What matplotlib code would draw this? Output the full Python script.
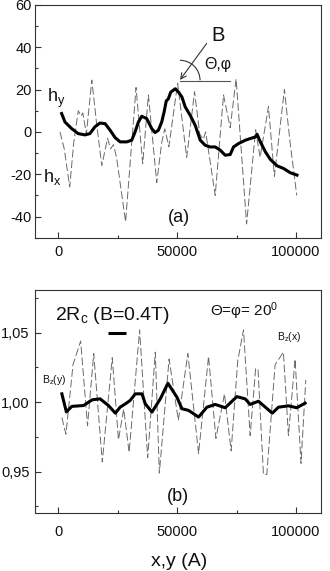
import matplotlib
matplotlib.use("Agg")
import matplotlib.pyplot as plt
from matplotlib.patches import Arc
from matplotlib.ticker import MultipleLocator, FuncFormatter

plt.rcParams["font.family"] = ["Liberation Sans", "DejaVu Sans"]
plt.rcParams["mathtext.fontset"] = "custom"
plt.rcParams["mathtext.rm"] = "Liberation Sans"
plt.rcParams["mathtext.it"] = "Liberation Sans:italic"
plt.rcParams["axes.unicode_minus"] = False

# panel (a): h_y (thick) and h_x (thin dashed)
hy_pos = [1400, 2800, 5600, 8400, 11200, 13300, 15400, 17500, 19700, 21800,
          23900, 26000, 28800, 30900, 32300, 33700, 35100, 37200, 39300, 40700,
          42100, 43500, 44500, 45400, 46300, 47300, 49200, 50600, 52000, 53400,
          55500, 57600, 59700, 61800, 63900, 66000, 68100, 70200, 72300, 73700,
          75800, 78700, 80800, 82900, 83600, 85000, 87100, 89200, 92000, 94800,
          97600, 100400]
hy_val = [8.7, 4.7, 1.6, -0.8, -1.4, -0.8, 2.4, 4.2, 3.9, 0.8,
          -2.7, -4.7, -4.7, -3.9, 0.0, 4.7, 7.4, 6.3, 1.6, -0.3,
          0.8, 4.7, 9.4, 14.6, 15.7, 18.8, 20.4, 18.8, 16.5, 11.8,
          7.8, 3.1, -3.9, -6.3, -7.1, -7.1, -8.6, -11.0, -10.7, -7.1,
          -5.5, -3.9, -3.1, -2.4, -1.1, -4.7, -9.4, -13.0, -16.0, -17.3,
          -19.3, -20.4]

hx_pos = [700, 2500, 4800, 6500, 8400, 9600, 10300, 11800, 14100, 16000,
          18300, 20700, 22000, 23200, 24500, 28300, 32700, 35500, 37900, 41400,
          43500, 44800, 46500, 50200, 54000, 57300, 59500, 61000, 62000, 66000,
          69500, 72300, 74800, 79200, 83000, 84900, 88400, 90900, 95100, 97500,
          100300]
hx_val = [0, -8, -26, -5, 10, 7.5, 9, -1, 24.5, 5,
          -16, -3, -8, -6, -12, -42.5, 21, -15, 17.5, -24,
          -5, 1.5, -7, 23, -12, 19, -1, -3.5, 0, -30,
          17.5, 2, 25, -43.5, 1, -12, 12, -21, 20, -5,
          -30]

# panel (b): B_z(y) (thick) and B_z(x) (thin dashed)
bzy_pos = [1500, 3400, 5700, 10600, 14200, 17600, 21100, 24000, 26000, 28200,
           30200, 32400, 35200, 36600, 39400, 42900, 46100, 49900, 52000, 54800,
           59000, 62500, 66000, 70200, 75100, 78600, 80700, 84200, 90000, 92600,
           96800, 100300, 103800]
bzy_val = [1.006, 0.993, 0.997, 0.9976, 1.0017, 1.0024, 0.9976, 0.9921, 0.9964, 0.9988,
           1.0012, 1.006, 1.006, 0.9988, 0.9929, 1.0024, 1.0136, 1.0036, 0.9953, 0.9941,
           0.9893, 0.9964, 0.9984, 0.996, 1.004, 1.0024, 0.9984, 1.0007, 0.9921, 0.9964,
           0.9974, 0.996, 0.9993]

bzx_pos = [1500, 3200, 6200, 9400, 12300, 14900, 18500, 22700, 25300, 27500,
           29800, 34200, 37600, 40800, 42500, 46600, 50500, 54500, 59000, 63200,
           66300, 69900, 72700, 75500, 77900, 80700, 83000, 84000, 86300, 87700,
           91200, 94700, 96800, 99600, 102100, 104100]
bzx_val = [0.989, 0.977, 1.027, 1.044, 0.983, 1.035, 0.957, 1.032, 0.973, 0.995,
           0.964, 1.052, 0.960, 1.036, 0.949, 1.031, 0.987, 1.035, 0.963, 1.033,
           0.974, 1.006, 0.965, 1.030, 1.052, 0.976, 1.024, 1.024, 0.948, 0.948,
           1.027, 1.036, 0.976, 1.031, 0.956, 1.016]

x_ticks = [0, 50000, 100000]
a_yticks = [-40, -20, 0, 20, 40, 60]
b_yticks = [0.95, 1.00, 1.05]

ink = "#111111"
thin = "#6a6a6a"

fig = plt.figure(figsize=(3.3, 5.71), dpi=100)
W, H = 330.0, 571.0
ax1 = fig.add_axes([35 / W, 1 - 237.7 / H, 286 / W, 232.7 / H])
ax2 = fig.add_axes([35 / W, 1 - 513 / H, 286 / W, 223 / H])

for ax in (ax1, ax2):
    for sp in ax.spines.values():
        sp.set_linewidth(0.8)
        sp.set_color("#333333")
    ax.set_xlim(-9800, 110500)
    ax.set_xticks(x_ticks)
    ax.xaxis.set_minor_locator(MultipleLocator(25000))
    ax.tick_params(which="both", direction="in", colors="#333333",
                   labelcolor=ink, labelsize=10.5, width=0.8)
    ax.tick_params(which="major", length=4.5)
    ax.tick_params(which="minor", length=2.5)

# (a)
ax1.plot(hx_pos, hx_val, color=thin, lw=0.7, linestyle=(0, (8, 3)))
ax1.plot(hy_pos, hy_val, color="black", lw=2.2, solid_joinstyle="round")
ax1.set_ylim(-50, 60)
ax1.set_yticks(a_yticks)
ax1.yaxis.set_minor_locator(MultipleLocator(10))
ax1.tick_params(axis="y", pad=2.4)
ax1.tick_params(axis="x", pad=5)

ax1.text(-4900, 14, r"h$_\mathregular{y}$", fontsize=13, color=ink, va="baseline")
ax1.text(-6300, -23.8, r"h$_\mathregular{x}$", fontsize=13, color=ink, va="baseline")
ax1.text(50800, -40.3, "(a)", fontsize=13, color=ink, ha="center", va="center")
ax1.text(67000, 45.5, "B", fontsize=14.5, color=ink, ha="center", va="center")
ax1.text(67200, 32, "Θ,φ", fontsize=11.5, color=ink, ha="center", va="center")
ax1.annotate("", xy=(51200, 24.6), xytext=(62400, 41.8),
             arrowprops=dict(arrowstyle="->", lw=0.8, color="#333333",
                             shrinkA=0, shrinkB=0))
ax1.plot([51200, 72200], [24.2, 24.2], color="#555555", lw=0.8)
ax1.add_patch(Arc((51200, 24.4), width=2 * 20 / 237.7e-5, height=2 * 20 / 42.3 * 20,
                  theta1=0, theta2=53, color="#333333", lw=0.8))

# (b)
ax2.plot(bzx_pos, bzx_val, color=thin, lw=0.7, linestyle=(0, (8, 3)))
ax2.plot(bzy_pos, bzy_val, color="black", lw=2.2, solid_joinstyle="round")
ax2.set_ylim(0.9203, 1.0807)
ax2.set_yticks(b_yticks)
ax2.yaxis.set_minor_locator(MultipleLocator(0.025))
ax2.yaxis.set_major_formatter(FuncFormatter(lambda v, p: f"{v:.2f}".replace(".", ",")))
ax2.tick_params(axis="y", pad=4)
ax2.tick_params(axis="x", pad=8.5)

ax2.text(-1400, 1.0593, r"2R$_\mathregular{c}$ (B=0.4T)", fontsize=14, color=ink,
         va="baseline")
ax2.plot([21000, 28500], [1.0499, 1.0499], color="black", lw=2.2, solid_capstyle="butt")
ax2.text(63800, 1.0617, r"Θ=φ= 20$^\mathregular{0}$", fontsize=11, color=ink,
         va="baseline")
ax2.text(-7000, 1.0135, r"B$_\mathregular{z}$(y)", fontsize=7.5, color=ink, va="baseline")
ax2.text(91900, 1.0444, r"B$_\mathregular{z}$(x)", fontsize=7.5, color=ink, va="baseline")
ax2.text(50500, 0.9322, "(b)", fontsize=13, color=ink, ha="center", va="center")

# reference crops this label at the bottom edge; keep it just inside
fig.text(179 / W, 1 - 569.5 / H, "x,y (A)", fontsize=14, color=ink, ha="center", va="bottom")

fig.savefig("out.png", dpi=100, facecolor="white")
